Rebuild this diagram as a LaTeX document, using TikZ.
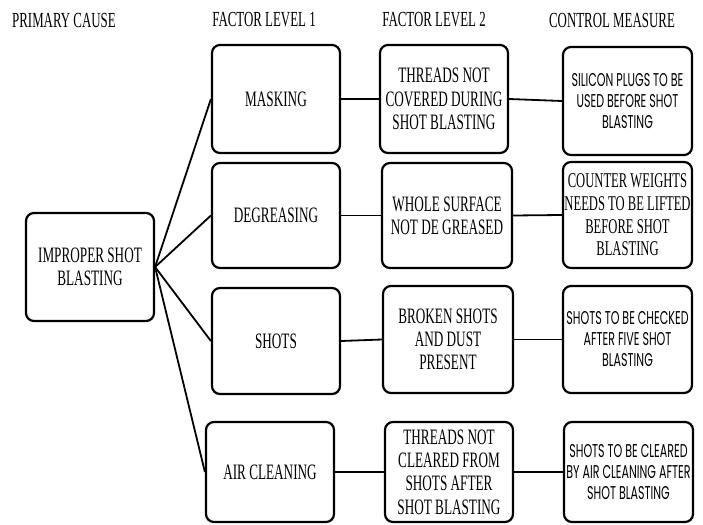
\documentclass[tikz,border=0pt]{standalone}
\usepackage{fontspec}
\setmainfont[FakeStretch=0.6]{Liberation Serif}
\newfontfamily\gothic[FakeStretch=0.6]{Poppins}
\begin{document}
\begin{tikzpicture}[x=1pt,y=-1pt,
  box/.style={draw, line width=2.2pt, rounded corners=8pt, align=center,
    minimum width=128pt, minimum height=106pt, inner sep=1pt,
    font=\fontsize{22}{23.3}\selectfont},
  cbox/.style={box, font=\gothic\fontsize{18.5}{21}\selectfont},
  head/.style={font=\fontsize{21.5}{23}\selectfont, inner sep=0pt},
  link/.style={line width=1.8pt}]
\useasboundingbox (0,0) rectangle (703,524);
% headers
\node[head] (h0) at (64,20) {PRIMARY CAUSE};
\node[head] (h1) at (264,20) {FACTOR LEVEL 1};
\node[head] (h2) at (434,20) {FACTOR LEVEL 2};
\node[head] (h3) at (612,20) {CONTROL MEASURE};
% root
\node[box, minimum height=108pt] (root) at (90,267) {IMPROPER SHOT\\BLASTING};
% level 1
\node[box, minimum height=108pt] (m1) at (276,99) {MASKING};
\node[box, minimum height=105pt] (d1) at (276,215.5) {DEGREASING};
\node[box] (s1) at (276,341) {SHOTS};
\node[box, minimum height=100pt] (a1) at (270,472) {AIR CLEANING};
% level 2
\node[box, minimum height=108pt] (m2) at (444,99) {THREADS NOT\\COVERED DURING\\SHOT BLASTING};
\node[box, minimum width=130pt, minimum height=105pt] (d2) at (447,215.5) {WHOLE SURFACE\\NOT DE GREASED};
\node[box, minimum width=130pt, minimum height=107pt] (s2) at (448,339.5) {BROKEN SHOTS\\AND DUST\\PRESENT};
\node[box, minimum height=100pt] (a2) at (449,472) {THREADS NOT\\CLEARED FROM\\SHOTS AFTER\\SHOT BLASTING};
% control
\node[cbox, minimum width=129pt, minimum height=108pt] (m3) at (627.5,101) {SILICON PLUGS TO BE\\USED BEFORE SHOT\\BLASTING};
\node[box, minimum width=129pt, minimum height=106pt, font=\fontsize{21}{22.7}\selectfont] (d3) at (627.5,215) {COUNTER WEIGHTS\\NEEDS TO BE LIFTED\\BEFORE SHOT\\BLASTING};
\node[cbox, minimum width=129pt, minimum height=107pt] (s3) at (627.5,339.5) {SHOTS TO BE CHECKED\\AFTER FIVE SHOT\\BLASTING};
\node[cbox, minimum width=129pt, minimum height=100pt] (a3) at (628.5,472) {SHOTS TO BE CLEARED\\BY AIR CLEANING AFTER\\SHOT BLASTING};
% connectors
\foreach \t in {m1,d1,s1,a1} \draw[link] (root.east) -- (\t.west);
\draw[link] (m1.east) -- (m2.west);
\draw[link] (d1.east) -- (d2.west);
\draw[link] (s1.east) -- (s2.west);
\draw[link] (a1.east) -- (a2.west);
\draw[link] (m2.east) -- (m3.west);
\draw[link] (d2.east) -- (d3.west);
\draw[link] (s2.east) -- (s3.west);
\draw[link] (a2.east) -- (a3.west);
\end{tikzpicture}
\end{document}
